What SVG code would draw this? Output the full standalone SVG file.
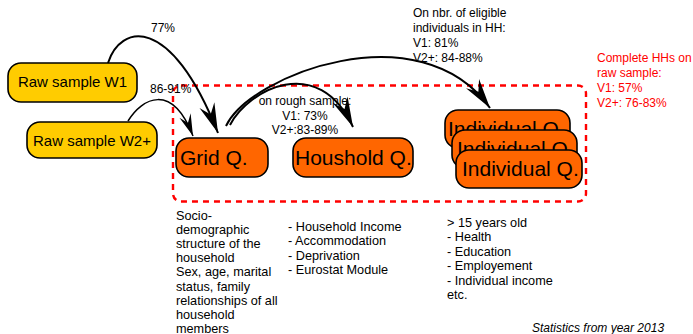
<svg xmlns="http://www.w3.org/2000/svg" width="693" height="334" viewBox="0 0 693 334">
<style>
text{font-family:"Liberation Sans",Arial,sans-serif;fill:#000}
.raw{fill:#FFCC00;stroke:#000;stroke-width:1.6}
.q{fill:#FF6600;stroke:#000;stroke-width:1.6}
.rawt{font-size:15px}
.qt{font-size:21px}
.lbl{font-size:12px}
.desc{font-size:12.7px}
.red{fill:#FF0000}
.conn{fill:none;stroke:#000;stroke-width:2}
.group{fill:none;stroke:#FF0000;stroke-width:2.4;stroke-dasharray:6,5}
</style>
<defs>
<marker id="big" markerUnits="userSpaceOnUse" markerWidth="32" markerHeight="18" refX="30" refY="8" orient="auto" overflow="visible">
<path d="M0,0 L30,8 L0,16 L10,8 Z" fill="#000"/>
</marker>
<marker id="small" markerUnits="userSpaceOnUse" markerWidth="24" markerHeight="14" refX="22" refY="6" orient="auto" overflow="visible">
<path d="M0,0 L22,6 L0,12 L8,6 Z" fill="#000"/>
</marker>
</defs>
<rect class="group" x="173" y="85.5" width="413" height="116" rx="8"/>
<g id="raw-w1"><rect class="raw" x="8" y="63" width="129" height="39" rx="13"/><text class="rawt" x="72.5" y="86.5" text-anchor="middle">Raw sample W1</text></g>
<g id="raw-w2"><rect class="raw" x="27" y="122" width="130" height="36" rx="13"/><text class="rawt" x="92" y="145.5" text-anchor="middle">Raw sample W2+</text></g>
<g id="grid"><rect class="q" x="176" y="138" width="92" height="39" rx="13"/><text class="qt" x="180" y="165">Grid Q.</text></g>
<g id="household"><rect class="q" x="293" y="138" width="120" height="39" rx="13"/><text class="qt" x="295" y="165">Houshold Q.</text></g>
<g id="individual1"><rect class="q" x="445" y="110" width="125" height="38" rx="13"/><text class="qt" x="448" y="136">Individual Q.</text></g>
<g id="individual2"><rect class="q" x="452" y="130" width="125" height="38" rx="13"/><text class="qt" x="457" y="156">Individual Q.</text></g>
<g id="individual3"><rect class="q" x="456" y="150" width="126" height="38" rx="13"/><text class="qt" x="462" y="176">Individual Q.</text></g>
<g id="connectors">
<path class="conn" d="M108,63 C120,25 170,12 218,133" marker-end="url(#big)"/>
<path class="conn" style="stroke-width:1.5" d="M128,121 C142,98 172,82 193,136" marker-end="url(#small)"/>
<path class="conn" d="M230,125 C248,90 318,52 353,127" marker-end="url(#big)"/>
<path class="conn" d="M226,126 C250,75 420,10 490,108" marker-end="url(#big)"/>
</g>
<g id="labels">
<text class="lbl" x="163" y="32" text-anchor="middle">77%</text>
<text class="lbl" x="150" y="93">86-91%</text>
<text class="lbl" x="305" y="105" text-anchor="middle">on rough sample:</text>
<text class="lbl" x="305" y="120" text-anchor="middle">V1: 73%</text>
<text class="lbl" x="305" y="134" text-anchor="middle">V2+:83-89%</text>
<text class="lbl" x="413" y="17">On nbr. of eligible</text>
<text class="lbl" x="413" y="32">individuals in HH:</text>
<text class="lbl" x="413" y="47">V1: 81%</text>
<text class="lbl" x="413" y="62">V2+: 84-88%</text>
<text class="lbl red" x="597" y="62">Complete HHs on</text>
<text class="lbl red" x="597" y="77">raw sample:</text>
<text class="lbl red" x="597" y="92">V1: 57%</text>
<text class="lbl red" x="597" y="107">V2+: 76-83%</text>
<text class="desc" x="176" y="219.5">Socio-</text>
<text class="desc" x="176" y="233.7">demographic</text>
<text class="desc" x="176" y="247.9">structure of the</text>
<text class="desc" x="176" y="262.1">household</text>
<text class="desc" x="176" y="276.3">Sex, age, marital</text>
<text class="desc" x="176" y="290.5">status, family</text>
<text class="desc" x="176" y="304.7">relationships of all</text>
<text class="desc" x="176" y="318.9">household</text>
<text class="desc" x="176" y="333">members</text>
<text class="desc" x="288" y="230.5">- Household Income</text>
<text class="desc" x="288" y="245">- Accommodation</text>
<text class="desc" x="288" y="259.5">- Deprivation</text>
<text class="desc" x="288" y="274">- Eurostat Module</text>
<text class="desc" x="447" y="226.5">&gt; 15 years old</text>
<text class="desc" x="447" y="241">- Health</text>
<text class="desc" x="447" y="255.5">- Education</text>
<text class="desc" x="447" y="270">- Employement</text>
<text class="desc" x="447" y="284.5">- Individual income</text>
<text class="desc" x="447" y="299">etc.</text>
<text class="lbl" x="532" y="332" font-style="italic">Statistics from year 2013</text>
</g>
</svg>
